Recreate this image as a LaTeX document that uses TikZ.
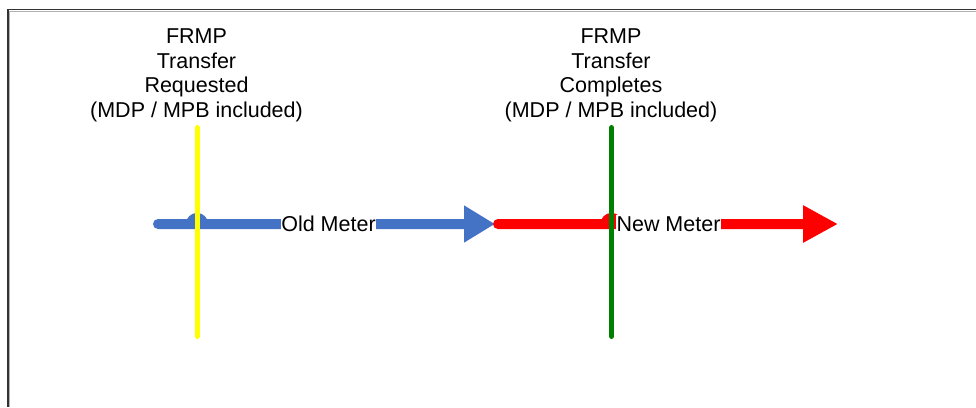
\documentclass[tikz,border=0pt]{standalone}
\usepackage{fontspec}
\setmainfont{Liberation Sans}
\usetikzlibrary{arrows.meta}
\definecolor{oblue}{HTML}{4472C4}
\definecolor{ored}{HTML}{FF0000}
\definecolor{oyel}{HTML}{FFFF00}
\definecolor{ogrn}{HTML}{008000}
\begin{document}
\begin{tikzpicture}[x=1pt,y=-1pt,
  flow/.style={line width=10pt,line cap=round},
  marker/.style={line width=5pt,line cap=round},
  event/.style={align=center,anchor=north,inner sep=0pt,font=\fontsize{21.5}{24.7}\selectfont},
  meterlbl/.style={fill=white,inner xsep=0.3pt,inner ysep=2pt,font=\fontsize{21.5}{25}\selectfont},
  frame/.style={draw=black!80,line width=1.3pt}]
\useasboundingbox (0,0) rectangle (976,407);
\draw[frame] (8,407) -- (8,9.5) -- (976,9.5);
\draw[black!30,line width=0.8pt] (9.6,407) -- (9.6,11) -- (976,11);
% flow coordinates
\coordinate (bS) at (158,224);
\coordinate (yX) at (197,224);
\coordinate (bE) at (495,224);
\coordinate (rS) at (498,224);
\coordinate (gX) at (611.5,224);
\coordinate (rE) at (838,224);
% old meter arrow
\draw[flow,oblue,-{Triangle[length=31pt,width=35pt]}] (bS) -- ([xshift=-6pt]yX) arc[start angle=180,end angle=0,radius=6pt] -- (bE);
% new meter arrow
\draw[flow,ored,-{Triangle[length=35pt,width=35pt]}] (rS) -- ([xshift=-6pt]gX) arc[start angle=180,end angle=0,radius=6pt] -- (rE);
\node[meterlbl] (oldm) at (328.5,224) {Old Meter};
\node[meterlbl] (newm) at (668.5,224) {New Meter};
% event markers
\coordinate (yT) at (197,127.5);
\coordinate (yB) at (197,336.5);
\coordinate (gT) at (611.5,127.5);
\coordinate (gB) at (611.5,336.5);
\draw[marker,oyel] (yT) -- (yB);
\draw[marker,ogrn] (gT) -- (gB);
\node[event] (req) at (196.5,28.5) {FRMP\\Transfer\\Requested\\(MDP / MPB included)};
\node[event] (cmp) at (611,28.5) {FRMP\\Transfer\\Completes\\(MDP / MPB included)};
\end{tikzpicture}
\end{document}
